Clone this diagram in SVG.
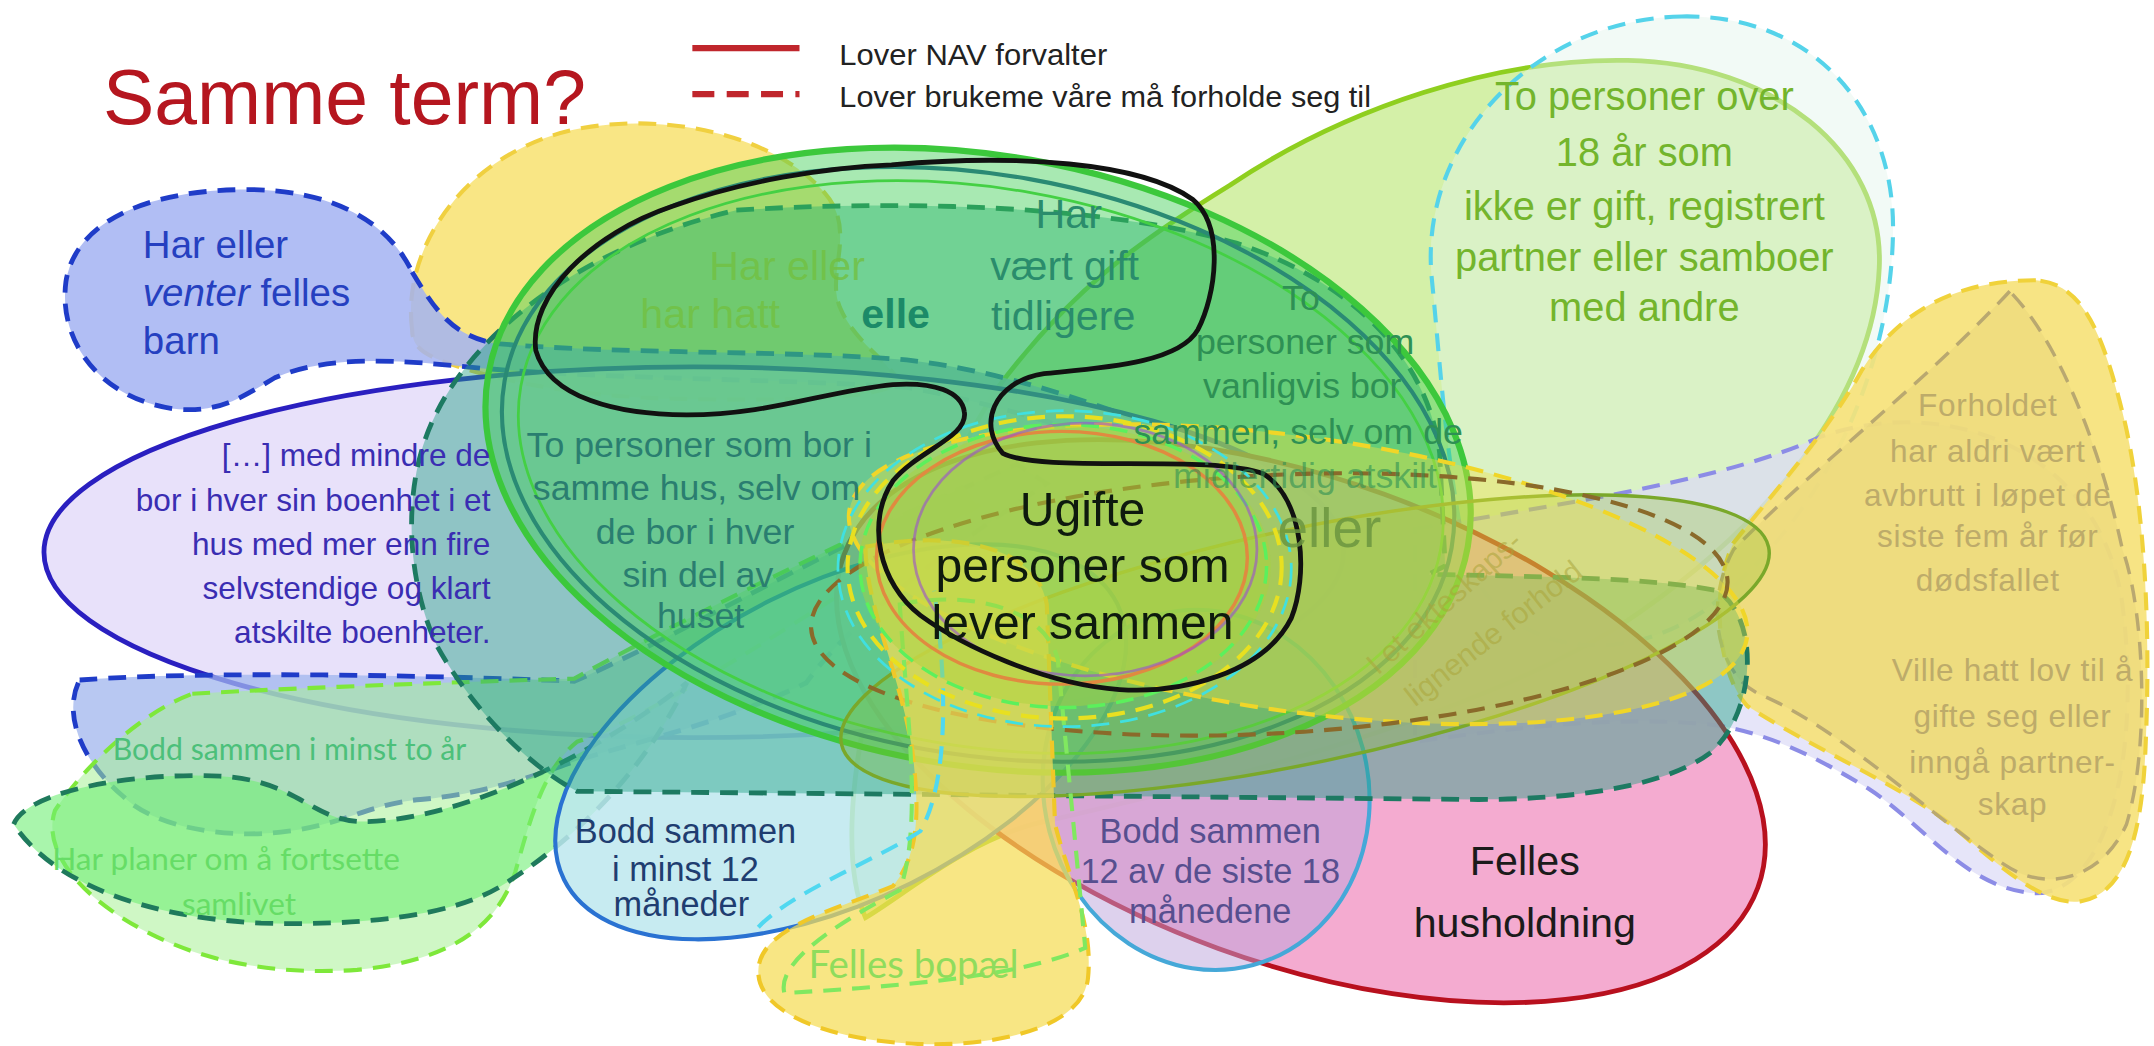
<svg xmlns="http://www.w3.org/2000/svg" width="2154" height="1046" viewBox="0 0 2154 1046">
<style>
.d{stroke-dasharray:13 8}
text{font-family:"Liberation Sans",Arial,sans-serif}
.c{font-family:Lato,"Open Sans",sans-serif}
.m{text-anchor:middle}
</style>
<rect width="2154" height="1046" fill="#ffffff"/>
<g transform="scale(1.373724)">

<!-- large light-green egg, upper right -->
<g id="over-18">
<path d="M630,668 C600,600 640,420 725,284 C780,210 830,175 895,135 C980,78 1090,42 1185,44 C1290,46 1372,110 1368,195 C1364,290 1285,385 1180,455 C1060,530 860,575 752,600 C700,615 660,650 630,668 Z" fill="#c9ec92" fill-opacity="0.8" stroke="#8fcf1f" stroke-width="3.5"/>
</g>
<g id="over-18-dashed">
<path class="d" d="M1224,12 C1320,10 1380,80 1378,170 C1376,280 1320,385 1240,445 C1170,492 1085,470 1066,400 C1052,330 1048,260 1042,200 C1034,100 1120,14 1224,12 Z" fill="#e2f4ea" fill-opacity="0.45" stroke="#55d3ea" stroke-width="3"/>
</g>

<!-- lavender outline behind the right blob -->
<g id="lavender">
<path class="d" d="M1030,385 C1150,365 1260,348 1325,318 C1420,285 1530,330 1545,440 C1560,560 1530,655 1478,650 C1430,645 1400,600 1360,574 C1320,550 1290,535 1250,528 C1180,520 1100,530 1030,540 Z" fill="#dcdaf6" fill-opacity="0.7" stroke="#8c8ce6" stroke-width="3"/>
</g>

<!-- right yellow blob -->
<g id="forholdet">
<path class="d" d="M1482,204 C1430,204 1385,222 1355,270 C1330,315 1290,360 1262,395 C1245,430 1250,490 1272,514 C1320,545 1380,570 1420,600 C1460,635 1490,660 1515,656 C1550,650 1560,600 1562,540 C1566,450 1560,360 1545,300 C1530,240 1515,206 1482,204 Z" fill="#f6e27a" fill-opacity="0.92" stroke="#f0d23a" stroke-width="3"/>
<path class="d" d="M1463,212 C1400,280 1320,340 1262,400 C1240,440 1250,490 1280,505 C1340,530 1400,590 1460,630 C1490,650 1530,640 1548,600 C1566,540 1560,440 1545,400 C1530,330 1500,250 1463,212 Z" fill="#e6d47a" fill-opacity="0.45" stroke="#b9a870" stroke-width="2.5"/>
</g>

<!-- top-left yellow blob -->
<g id="felles-barn-gul">
<path class="d" d="M300,240 C292,180 340,108 425,93 C490,82 565,100 600,140 C625,168 600,200 612,225 C622,248 645,262 655,278 C640,292 560,292 480,290 C400,287 345,272 320,262 C305,256 300,250 300,240 Z" fill="#f8e270" fill-opacity="0.85" stroke="#f0d040" stroke-width="3"/>
</g>

<!-- blue dashed blob with tail -->
<g id="felles-barn">
<path class="d" d="M300,198 C318,228 330,244 360,250 C450,258 580,255 660,262 C750,272 840,310 905,335 L900,352 C830,330 750,298 660,282 C580,276 440,276 350,268 C290,262 240,258 200,275 C175,290 160,300 130,298 C75,292 42,250 48,205 C55,160 110,138 180,138 C240,138 282,160 300,198 Z" fill="#a3b3f2" fill-opacity="0.85" stroke="#1f3cc8" stroke-width="3.5"/>
</g>

<!-- purple ellipse -->
<g id="boenhet">
<ellipse cx="505" cy="402" rx="473" ry="135" fill="#e6defa" fill-opacity="0.9" stroke="#2a1fc0" stroke-width="3.5"/>
</g>

<!-- bottom-left blobs -->
<g id="to-aar">
<path class="d" d="M58,495 C150,488 330,492 418,496 C500,460 600,400 740,338 L762,352 C690,400 620,450 587,497 C520,530 440,545 408,558 C360,575 330,580 306,582 C270,585 250,600 210,605 C160,612 110,600 90,580 C60,555 45,520 58,495 Z" fill="#a0b6ee" fill-opacity="0.75" stroke="#1f3cc8" stroke-width="3.5"/>
</g>
<g id="to-aar-lime">
<path class="d" d="M140,505 C230,500 350,496 418,494 C480,460 560,420 700,355 L712,368 C600,440 480,520 420,540 C395,560 385,600 375,635 C360,680 320,700 260,706 C200,710 150,700 110,680 C60,655 30,620 40,590 C60,560 100,520 140,505 Z" fill="#a8f096" fill-opacity="0.55" stroke="#7ee83a" stroke-width="3"/>
</g>
<g id="planer">
<path class="d" d="M10,600 C20,575 100,562 160,565 C215,568 225,595 260,598 C320,600 420,560 500,497 C470,560 420,610 368,643 C330,668 260,674 190,672 C110,668 40,645 10,600 Z" fill="#70ee74" fill-opacity="0.6" stroke="#1f7a5c" stroke-width="3.5"/>
</g>

<!-- red ellipse -->
<g id="husholdning">
<ellipse cx="947" cy="525" rx="354" ry="176" transform="rotate(20 947 525)" fill="#f3a7cd" fill-opacity="0.95" stroke="#b8101e" stroke-width="3.5"/>
</g>

<!-- blue ellipses -->
<g id="minst-12">
<ellipse cx="612" cy="540" rx="225" ry="115" transform="rotate(-26.5 612 540)" fill="#bde8ee" fill-opacity="0.85" stroke="#2a72d2" stroke-width="3"/>
</g>
<g id="siste-18">
<ellipse cx="878" cy="575" rx="118" ry="132" transform="rotate(-15 878 575)" fill="#bba4dc" fill-opacity="0.5" stroke="#45a8d8" stroke-width="3"/>
</g>

<!-- teal dashed blob -->
<g id="samme-hus">
<path class="d" d="M536,153 C650,146 800,148 900,177 C985,205 1040,262 1048,330 L1052,412 L1040,418 C1120,420 1200,420 1250,430 C1282,450 1278,520 1245,548 C1205,578 1120,582 1076,582 L420,576 C380,555 340,510 318,470 C295,420 292,350 318,300 C345,245 420,180 536,153 Z" fill="#24a286" fill-opacity="0.45" stroke="#1d7a62" stroke-width="3.5"/>
</g>

<!-- big green ellipse -->
<g id="vanligvis">
<ellipse cx="712" cy="335" rx="362" ry="222" transform="rotate(10 712 335)" fill="#3fcf55" fill-opacity="0.45" stroke="#3cc83c" stroke-width="4.5"/>
<ellipse cx="712" cy="338" rx="350" ry="211" transform="rotate(10 712 338)" fill="none" stroke="#2a8a74" stroke-width="3"/>
<ellipse cx="714" cy="340" rx="340" ry="203" transform="rotate(10 714 340)" fill="none" stroke="#44d044" stroke-width="2"/>
</g>

<!-- band ellipses -->
<g id="ekteskap">
<ellipse cx="950" cy="470" rx="345" ry="85" transform="rotate(-12 950 470)" fill="#90c030" fill-opacity="0.3" stroke="#7aa82a" stroke-width="2.5"/>
<ellipse class="d" cx="945" cy="418" rx="330" ry="100" transform="rotate(8 945 418)" fill="#f0e040" fill-opacity="0.4" stroke="#f0d628" stroke-width="3"/>
<ellipse class="d" cx="924" cy="440" rx="334" ry="94" transform="rotate(-3 924 440)" fill="none" stroke="#8a6a2a" stroke-width="3"/>
</g>

<!-- bottom yellow blob -->
<g id="bopael">
<path class="d" d="M630,398 C690,386 755,396 762,440 L768,600 C778,640 796,672 792,712 C788,750 720,762 670,760 C610,758 553,740 552,708 C551,675 610,662 650,645 C672,620 668,580 664,545 C655,490 630,440 630,398 Z" fill="#f5dd55" fill-opacity="0.72" stroke="#f0c828" stroke-width="3"/>
<path class="d" d="M655,440 C700,430 760,440 770,480 L790,690 C740,712 650,718 571,723 C565,700 610,672 655,648 C672,600 660,520 655,440 Z" fill="none" stroke="#80e860" stroke-width="3"/>
<path class="d" d="M552,675 C575,650 640,625 670,605 C690,570 690,500 680,430" fill="none" stroke="#50d8f0" stroke-width="3"/>
</g>

<!-- rings round the core -->
<g id="kjerne">
<ellipse cx="775" cy="412" rx="150" ry="102" fill="#a6d43c" fill-opacity="0.45"/>
<ellipse class="d" cx="775" cy="414" rx="165" ry="115" fill="none" stroke="#40e0e0" stroke-width="2"/>
<ellipse class="d" cx="775" cy="413" rx="158" ry="110" fill="none" stroke="#e8e020" stroke-width="3"/>
<ellipse class="d" cx="774" cy="412" rx="148" ry="103" fill="none" stroke="#5cf05c" stroke-width="2.5"/>
<ellipse cx="773" cy="406" rx="135" ry="92" fill="none" stroke="#e08a40" stroke-width="2.5"/>
<ellipse cx="790" cy="400" rx="125" ry="92" fill="none" stroke="#9b4fd0" stroke-width="2" stroke-opacity="0.6"/>
</g>

<!-- black outline -->
<g id="ugifte">
<path d="M649,120 C740,112 830,118 868,145 C892,165 885,215 872,240 C858,265 800,268 760,272 C722,278 712,310 730,330 C760,345 880,330 920,345 C950,365 952,420 940,450 C920,490 860,505 815,502 C760,498 700,470 670,448 C640,425 630,380 650,350 C668,328 705,318 702,300 C700,285 680,278 650,280 C600,285 560,302 500,302 C450,302 400,290 390,255 C385,215 430,170 490,150 C540,132 600,122 649,120 Z" fill="none" stroke="#111111" stroke-width="3.5"/>
</g>

<!-- labels -->
<g id="labels">
<text x="75" y="90" font-size="56" fill="#b5161f">Samme term?</text>
<line x1="504" y1="35" x2="582" y2="35" stroke="#c0262c" stroke-width="4.5"/>
<line x1="504" y1="68.5" x2="582" y2="68.5" stroke="#c0262c" stroke-width="4.5" stroke-dasharray="16 9"/>
<text x="611" y="47" font-size="22" fill="#222" textLength="195" lengthAdjust="spacingAndGlyphs">Lover NAV forvalter</text>
<text x="611" y="78" font-size="22" fill="#222" textLength="387" lengthAdjust="spacingAndGlyphs">Lover brukeme våre må forholde seg til</text>

<g font-size="28" fill="#2540c0">
<text x="104" y="188">Har eller</text>
<text x="104" y="223"><tspan font-style="italic">venter</tspan> felles</text>
<text x="104" y="258">barn</text>
</g>

<g class="c" font-size="23" fill="#3a2db2" text-anchor="end">
<text x="357" y="339">[…] med mindre de</text>
<text x="357" y="372">bor  i hver  sin boenhet  i et</text>
<text x="357" y="404">hus med mer enn fire</text>
<text x="357" y="436">selvstendige og klart</text>
<text x="357" y="468">atskilte boenheter.</text>
</g>

<g font-size="30" class="m">
<text x="573" y="204" fill="#72c040" fill-opacity="0.8">Har eller</text>
<text x="517" y="239" fill="#72c040" fill-opacity="0.8">har hatt</text>
<text x="652" y="239" fill="#1c8a68" font-weight="bold">elle</text>
<text x="778" y="166" fill="#2a8c6c">Har</text>
<text x="775" y="204" fill="#2a8c6c">vært gift</text>
<text x="774" y="240" fill="#2a8c6c">tidligere</text>
</g>

<g font-size="26" class="m" fill="#2e9054">
<text x="947" y="226">To</text>
<text x="950" y="258">personer som</text>
<text x="948" y="290">vanligvis bor</text>
<text x="945" y="323">sammen, selv om de</text>
<text x="950" y="355" fill-opacity="0.6">midlertidig atskilt</text>
</g>

<g font-size="26" class="m" fill="#2a7e70">
<text x="509" y="333">To personer som bor i</text>
<text x="507" y="364">samme hus, selv om</text>
<text x="506" y="396">de bor i hver</text>
<text x="508" y="427">sin del av</text>
<text x="510" y="457">huset</text>
</g>

<g font-size="35" class="m" fill="#0e1a0e">
<text x="788" y="383">Ugifte</text>
<text x="788" y="424">personer som</text>
<text x="788" y="465">lever sammen</text>
</g>

<text x="930" y="398" font-size="40" fill="#6b9540" fill-opacity="0.85">eller</text>

<g class="c" font-size="22" fill="#a9a43a" fill-opacity="0.55">
<text transform="translate(1003,492) rotate(-42)">I et ekteskaps-</text>
<text transform="translate(1030,515) rotate(-38)">lignende forhold</text>
</g>

<g font-size="25" class="m" fill="#1f3d70">
<text x="499" y="614">Bodd sammen</text>
<text x="499" y="641">i minst 12</text>
<text x="496" y="667">måneder</text>
</g>

<g font-size="25" class="m" fill="#574f8f">
<text x="881" y="614">Bodd sammen</text>
<text x="881" y="643">12 av de siste 18</text>
<text x="881" y="672">månedene</text>
</g>

<g class="c m" font-size="30" fill="#1b1b1b">
<text x="1110" y="637">Felles</text>
<text x="1110" y="682">husholdning</text>
</g>

<text class="c m" x="665" y="712" font-size="28" fill="#8fdc5c">Felles bopæl</text>

<text class="c" x="82" y="553" font-size="22" fill="#4cc07a">Bodd sammen i minst to år</text>
<text class="c" x="38" y="633" font-size="23" fill="#66dd66">Har planer om å fortsette</text>
<text class="c m" x="174" y="666" font-size="23" fill="#66dd66">samlivet</text>

<g class="c m" font-size="29" fill="#73b52c">
<text x="1197" y="80">To personer  over</text>
<text x="1197" y="121">18 år som</text>
<text x="1197" y="160">ikke er gift, registrert</text>
<text x="1197" y="197">partner eller samboer</text>
<text x="1197" y="234">med andre</text>
</g>

<g class="c m" font-size="23" fill="#bdab6a" letter-spacing="0.5">
<text x="1447" y="303">Forholdet</text>
<text x="1447" y="336">har aldri vært</text>
<text x="1447" y="368">avbrutt i løpet de</text>
<text x="1447" y="398">siste fem år før</text>
<text x="1447" y="430">dødsfallet</text>
<text x="1465" y="496">Ville hatt lov til å</text>
<text x="1465" y="529">gifte seg eller</text>
<text x="1465" y="563">inngå partner-</text>
<text x="1465" y="593">skap</text>
</g>
</g>
</g>
</svg>
